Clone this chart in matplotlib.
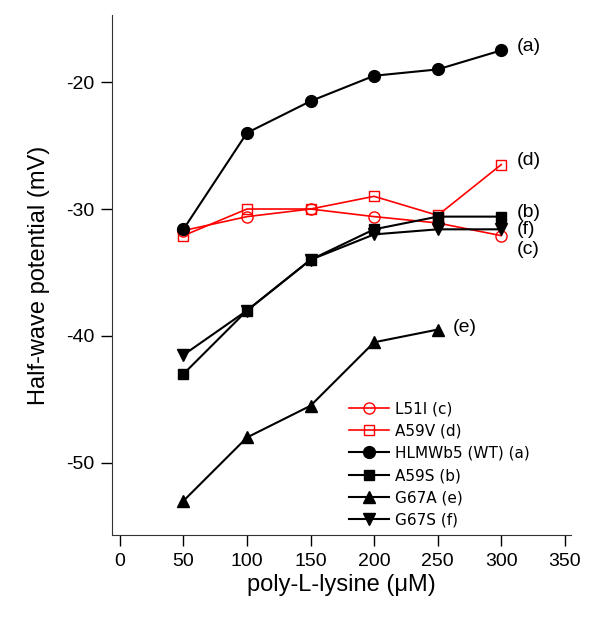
import matplotlib
matplotlib.use("Agg")
import matplotlib.pyplot as plt

# poly-L-lysine concentrations (uM)
conc = [50, 100, 150, 200, 250, 300]
conc_e = [50, 100, 150, 200, 250]

# half-wave potentials (mV)
l51i = [-31.7, -30.6, -30.0, -30.6, -31.1, -32.1]
a59v = [-32.1, -30.0, -30.0, -29.0, -30.5, -26.5]
wt = [-31.6, -24.0, -21.5, -19.5, -19.0, -17.5]
a59s = [-43.0, -38.0, -34.0, -31.6, -30.6, -30.6]
g67a = [-53.0, -48.0, -45.5, -40.5, -39.5]
g67s = [-41.5, -38.0, -34.0, -32.0, -31.6, -31.6]

labels = ["L51I (c)", "A59V (d)", "HLMWb5 (WT) (a)", "A59S (b)", "G67A (e)", "G67S (f)"]
tags = ["(a)", "(d)", "(b)", "(f)", "(c)", "(e)"]
tag_pos = [(312, -17.2), (312, -26.2), (312, -30.3), (312, -31.6), (312, -33.2), (262, -39.3)]

plt.rcParams['font.family'] = ['Liberation Sans', 'DejaVu Sans']
plt.rcParams['axes.unicode_minus'] = False

fig = plt.figure(figsize=(6, 6.18), dpi=100)
ax = fig.add_axes([0.187, 0.134, 0.765, 0.842])

red = '#ff0000'
ax.plot(conc, l51i, color=red, lw=1.2, marker='o', ms=8, mfc='none', mec=red, label=labels[0])
ax.plot(conc, a59v, color=red, lw=1.2, marker='s', ms=7.5, mfc='none', mec=red, label=labels[1])
ax.plot(conc, wt, color='black', lw=1.5, marker='o', ms=8.5, label=labels[2])
ax.plot(conc, a59s, color='black', lw=1.5, marker='s', ms=7.5, label=labels[3])
ax.plot(conc_e, g67a, color='black', lw=1.5, marker='^', ms=8.5, label=labels[4])
ax.plot(conc, g67s, color='black', lw=1.5, marker='v', ms=8.5, label=labels[5])

for t, (x, y) in zip(tags, tag_pos):
    ax.text(x, y, t, fontsize=14, va='center', ha='left')

ax.set_xlim(-6, 355)
ax.set_ylim(-55.7, -14.7)
ax.set_xticks(range(0, 351, 50))
ax.set_yticks([-20, -30, -40, -50])
for s in ['top', 'right']:
    ax.spines[s].set_visible(False)
for s in ['left', 'bottom']:
    ax.spines[s].set_color('#333333')
ax.tick_params(direction='out', length=8, width=1, labelsize=14, pad=5)
ax.set_xlabel("poly-L-lysine (\u03bcM)", fontsize=17, labelpad=3)
ax.set_ylabel("Half-wave potential (mV)", fontsize=17, labelpad=11)

leg = ax.legend(loc='lower right', bbox_to_anchor=(0.94, -0.012), frameon=False,
                prop={'family': 'DejaVu Sans', 'size': 11}, handlelength=2.6,
                labelspacing=0.48, handletextpad=0.4, markerscale=1.0)

fig.savefig("out.png", dpi=100)
